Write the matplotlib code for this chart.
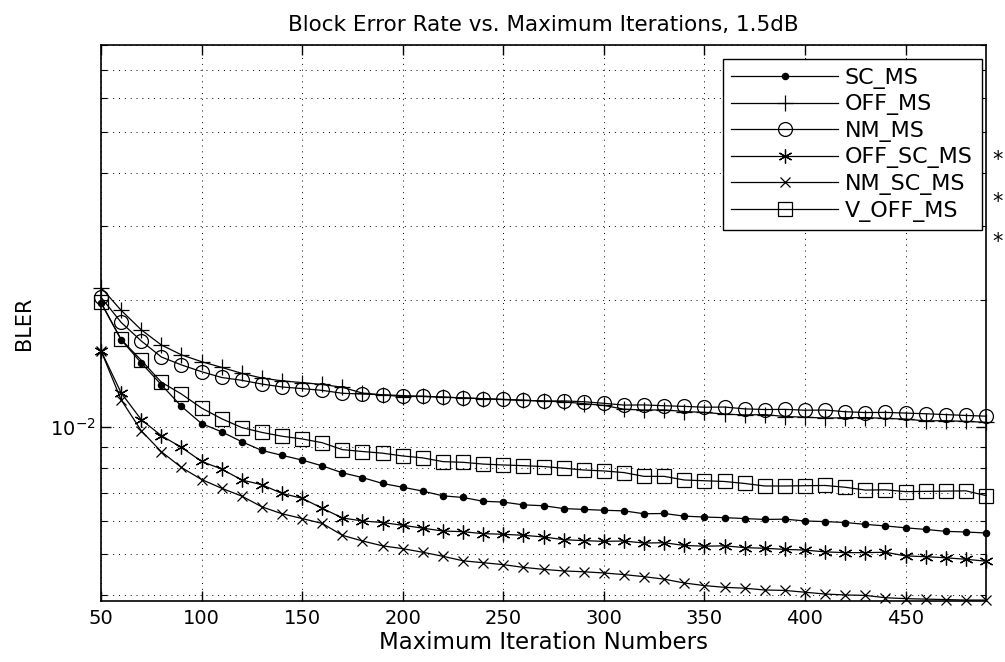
import numpy as np
import matplotlib
matplotlib.use("Agg")
import matplotlib.pyplot as plt
from matplotlib.ticker import LogLocator, NullFormatter, LogFormatterSciNotation, FixedLocator

# maximum iteration numbers (x axis)
iters = list(range(50, 500, 10))

# BLER values
sc_ms = [0.0197, 0.0161, 0.0142, 0.0126, 0.0112, 0.0102, 0.00975, 0.00924, 0.00881, 0.00858,
         0.00836, 0.00810, 0.00780, 0.00760, 0.00736, 0.00721, 0.00706, 0.00688, 0.00682, 0.00668,
         0.00665, 0.00655, 0.00652, 0.00642, 0.00639, 0.00636, 0.00634, 0.00624, 0.00625, 0.00616,
         0.00613, 0.00611, 0.00608, 0.00605, 0.00606, 0.00600, 0.00598, 0.00595, 0.00589, 0.00584,
         0.00578, 0.00573, 0.00567, 0.00565, 0.00562]
off_ms = [0.0214, 0.0189, 0.0170, 0.01565, 0.01483, 0.01429, 0.01385, 0.01341, 0.01307, 0.01287,
          0.01275, 0.01262, 0.01243, 0.01204, 0.01193, 0.01181, 0.01183, 0.01178, 0.01173, 0.01168,
          0.01163, 0.01158, 0.01153, 0.01148, 0.01137, 0.01126, 0.01103, 0.01098, 0.01099, 0.01089,
          0.01084, 0.01074, 0.01069, 0.01071, 0.01060, 0.01056, 0.01051, 0.01053, 0.01054, 0.01049,
          0.01045, 0.01035, 0.01036, 0.01032, 0.01027]
nm_ms = [0.0203, 0.0177, 0.0160, 0.01466, 0.01404, 0.01353, 0.01311, 0.01291, 0.01265, 0.01245,
         0.01234, 0.01222, 0.01203, 0.01198, 0.01193, 0.01188, 0.01183, 0.01178, 0.01173, 0.01168,
         0.01163, 0.01158, 0.01153, 0.01154, 0.01149, 0.01139, 0.01128, 0.01129, 0.01124, 0.01120,
         0.01115, 0.01116, 0.01105, 0.01101, 0.01102, 0.01097, 0.01098, 0.01088, 0.01083, 0.01084,
         0.01080, 0.01076, 0.01071, 0.01066, 0.01062]
off_sc_ms = [0.01517, 0.01206, 0.01042, 0.00955, 0.00896, 0.00830, 0.00796, 0.00750, 0.00731, 0.00697,
             0.00679, 0.00643, 0.00610, 0.00600, 0.00595, 0.00586, 0.00577, 0.00568, 0.00566, 0.00560,
             0.00558, 0.00555, 0.00550, 0.00542, 0.00539, 0.00537, 0.00538, 0.00532, 0.00533, 0.00525,
             0.00523, 0.00524, 0.00519, 0.00517, 0.00514, 0.00512, 0.00507, 0.00505, 0.00505, 0.00506,
             0.00496, 0.00494, 0.00491, 0.00487, 0.00482]
nm_sc_ms = [0.01517, 0.01161, 0.00981, 0.00875, 0.00803, 0.00752, 0.00717, 0.00687, 0.00648, 0.00624,
            0.00608, 0.00592, 0.00555, 0.00538, 0.00524, 0.00516, 0.00506, 0.00495, 0.00483, 0.00478,
            0.00473, 0.00466, 0.00461, 0.00457, 0.00455, 0.00452, 0.00448, 0.00443, 0.00437, 0.00428,
            0.00422, 0.00418, 0.00416, 0.00412, 0.00411, 0.00407, 0.00403, 0.00401, 0.00400, 0.00395,
            0.00393, 0.00392, 0.00391, 0.00390, 0.00390]
v_off_ms = [0.01973, 0.01613, 0.01440, 0.01278, 0.01198, 0.01110, 0.01047, 0.00998, 0.00972, 0.00952,
            0.00938, 0.00919, 0.00885, 0.00876, 0.00868, 0.00855, 0.00846, 0.00829, 0.00826, 0.00818,
            0.00814, 0.00811, 0.00807, 0.00800, 0.00792, 0.00788, 0.00781, 0.00765, 0.00765, 0.00750,
            0.00747, 0.00744, 0.00736, 0.00726, 0.00726, 0.00727, 0.00728, 0.00721, 0.00710, 0.00711,
            0.00704, 0.00705, 0.00706, 0.00707, 0.00689]

labels = ["SC_MS", "OFF_MS", "NM_MS", "OFF_SC_MS", "NM_SC_MS", "V_OFF_MS"]
series = [sc_ms, off_ms, nm_ms, off_sc_ms, nm_sc_ms, v_off_ms]
markers = [".", "+", "o", (6, 2, 0), "x", "s"]
msizes = [9, 11, 10, 10, 7, 10]
x_ticks = [50, 100, 150, 200, 250, 300, 350, 400, 450]

plt.rcParams["font.family"] = "DejaVu Sans"

fig = plt.figure(figsize=(10.05, 6.62), dpi=100)
ax = fig.add_axes([101 / 1005, 1 - 601 / 662, 885 / 1005, 556 / 662])

for vals, lab, mk, ms in zip(series, labels, markers, msizes):
    ax.plot(iters, vals, color="black", linewidth=0.9, marker=mk, markersize=ms,
            markerfacecolor="none" if mk in ("o", "s") else "black",
            markeredgecolor="black", markeredgewidth=0.9, label=lab, clip_on=False)

ax.set_yscale("log")
ax.set_xlim(50, 490)
ax.set_ylim(0.00388, 0.0802)

ax.xaxis.set_major_locator(FixedLocator(x_ticks))
ax.yaxis.set_major_locator(LogLocator(base=10))
ax.yaxis.set_major_formatter(LogFormatterSciNotation())
ax.yaxis.set_minor_locator(LogLocator(base=10, subs=np.arange(2, 10)))
ax.yaxis.set_minor_formatter(NullFormatter())

ax.grid(True, which="major", axis="both", color="black", linestyle=(0, (1, 5)), linewidth=0.7)
ax.grid(True, which="minor", axis="y", color="black", linestyle=(0, (1, 5)), linewidth=0.7)
ax.tick_params(which="both", direction="in", top=True, right=True, labelsize=14)
ax.tick_params(axis="x", which="major", pad=6)
ax.tick_params(which="major", length=7, width=1)
ax.tick_params(which="minor", length=4, width=0.8)
for sp in ax.spines.values():
    sp.set_linewidth(1.2)

ax.set_title("Block Error Rate vs. Maximum Iterations, 1.5dB", fontsize=15.5, pad=10)
ax.set_xlabel("Maximum Iteration Numbers", fontsize=16.5, labelpad=2)
ax.set_ylabel("BLER", fontsize=15, labelpad=12)

leg = ax.legend(loc="upper right", bbox_to_anchor=(0.995, 0.975), borderaxespad=0,
                fontsize=16, handlelength=4.8, handletextpad=0.3, labelspacing=0.25,
                fancybox=False, framealpha=1, edgecolor="black", borderpad=0.4)
leg.get_frame().set_linewidth(1.0)

for yy in (160, 202, 242):
    fig.text(992 / 1005, 1 - yy / 662, "*", fontsize=15, ha="left", va="center")

fig.savefig("out.png", dpi=100)
